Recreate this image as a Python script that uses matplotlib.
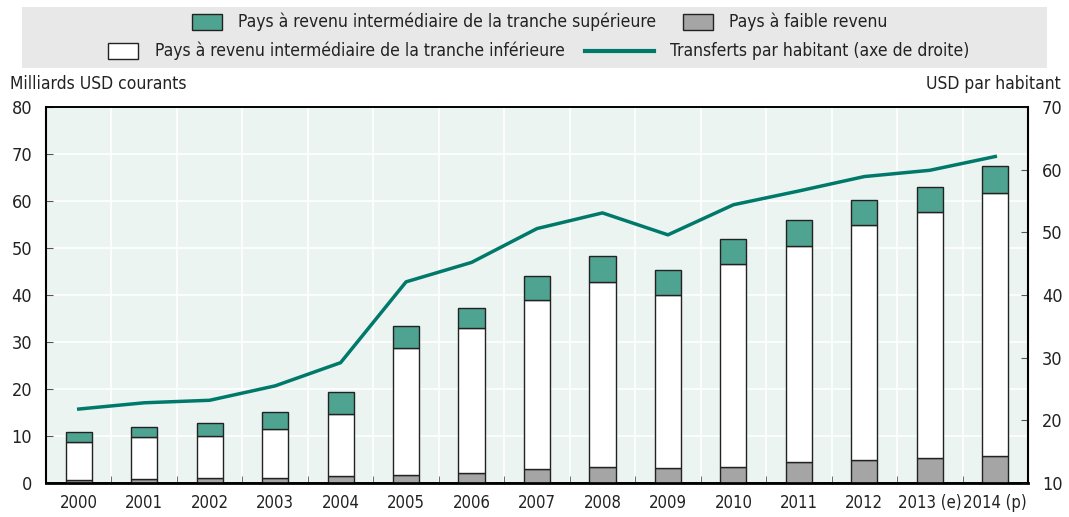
import matplotlib
matplotlib.use("Agg")
import matplotlib.pyplot as plt
from matplotlib import font_manager
from matplotlib.patches import Rectangle
from matplotlib.lines import Line2D
import numpy as np

names = {f.name for f in font_manager.fontManager.ttflist}
if 'Liberation Sans Narrow' in names:
    plt.rcParams['font.family'] = ['Liberation Sans Narrow', 'DejaVu Sans']
else:
    plt.rcParams['font.family'] = ['DejaVu Sans']
    plt.rcParams['font.stretch'] = 'condensed'

years = ["2000", "2001", "2002", "2003", "2004", "2005", "2006", "2007", "2008",
         "2009", "2010", "2011", "2012", "2013 (e)", "2014 (p)"]
low_income = [0.6, 0.8, 1.0, 1.1, 1.5, 1.8, 2.2, 2.9, 3.3, 3.2, 3.5, 4.5, 4.8, 5.3, 5.8]
lower_middle_top = [8.7, 9.8, 10.0, 11.5, 14.7, 28.8, 33.0, 38.9, 42.8, 40.1, 46.5, 50.4, 54.8, 57.6, 61.6]
total = [10.8, 12.0, 12.7, 15.2, 19.4, 33.3, 37.3, 44.0, 48.2, 45.3, 52.0, 55.9, 60.2, 63.0, 67.4]
per_capita = [21.8, 22.8, 23.2, 25.5, 29.2, 42.1, 45.2, 50.6, 53.1, 49.6, 54.4, 56.6, 58.9, 59.9, 62.1]

lower_middle = [t - l for t, l in zip(lower_middle_top, low_income)]
upper_middle = [t - m for t, m in zip(total, lower_middle_top)]

c_teal = "#4fa391"
c_gray = "#a5a5a5"
c_line = "#00796a"
c_bg = "#ecf4f2"
c_edge = "#222222"
c_text = "#222222"
fs = 12.5

W, H = 1069, 517
fig = plt.figure(figsize=(W / 100, H / 100), dpi=100)
ax = fig.add_axes([46/W, 1-483/H, (1028-46)/W, (483-107)/H])
ax.set_facecolor(c_bg)

x = np.arange(len(years))
w = 0.4
ax.bar(x, low_income, w, color=c_gray, edgecolor=c_edge, linewidth=1.0, zorder=3)
ax.bar(x, lower_middle, w, bottom=low_income, color="white", edgecolor=c_edge, linewidth=1.0, zorder=3)
ax.bar(x, upper_middle, w, bottom=lower_middle_top, color=c_teal, edgecolor=c_edge, linewidth=1.0, zorder=3)

ax.set_xlim(-0.5, len(years) - 0.5)
ax.set_ylim(0, 80)
ax.set_yticks(np.arange(0, 81, 10))
ax.set_xticks(x)
ax.set_xticklabels(years)
ax.set_xticks(np.arange(0.5, len(years) - 1, 1), minor=True)
ax.grid(axis='x', which='minor', color='white', linewidth=1.2, zorder=0)
ax.grid(axis='y', which='major', color='white', linewidth=1.2, zorder=0)
ax.set_axisbelow(True)
ax.tick_params(axis='x', which='major', length=0, labelsize=12, pad=8, colors=c_text)
ax.tick_params(axis='x', which='minor', length=5, direction='in', color='#555555')
ax.tick_params(axis='y', direction='in', length=5, color='#555555', labelsize=13, labelcolor=c_text, pad=10)
for s in ax.spines.values():
    s.set_color('black')
    s.set_linewidth(1.2)
ax.spines['bottom'].set_linewidth(2)
ax.spines['left'].set_linewidth(1.5)

ax2 = ax.twinx()
ax2.plot(x, per_capita, color=c_line, linewidth=2.5, zorder=5)
ax2.set_ylim(10, 70)
ax2.set_yticks(np.arange(10, 71, 10))
ax2.tick_params(axis='y', direction='in', length=5, color='#555555', labelsize=13, labelcolor=c_text, pad=10)
for s in ax2.spines.values():
    s.set_color('black')
    s.set_linewidth(1.2)
ax2.spines['right'].set_linewidth(1.5)

fig.text(10/W, 1-84/H, "Milliards USD courants", fontsize=fs, va='center', ha='left', color=c_text)
fig.text(1061/W, 1-84/H, "USD par habitant", fontsize=fs, va='center', ha='right', color=c_text)

# Legend (manual, centred rows)
fig.patches.append(Rectangle((22/W, 1-68/H), (1047-22)/W, (68-7)/H,
                             transform=fig.transFigure, facecolor='#e8e8e8', edgecolor='none', zorder=0))

def patch_item(x0, yc, color, label, tx):
    fig.patches.append(Rectangle((x0/W, 1-(yc+8)/H), 30/W, 16/H, transform=fig.transFigure,
                                 facecolor=color, edgecolor=c_edge, linewidth=1.0, zorder=2))
    fig.text(tx/W, 1-yc/H, label, fontsize=fs, va='center', ha='left', color=c_text)

patch_item(192, 22, c_teal, "Pays à revenu intermédiaire de la tranche supérieure", 238)
patch_item(683, 22, c_gray, "Pays à faible revenu", 729)
patch_item(108, 51, 'white', "Pays à revenu intermédiaire de la tranche inférieure", 155)
fig.lines.append(Line2D([585/W, 654/W], [1-51/H, 1-51/H], transform=fig.transFigure,
                        color=c_line, linewidth=3))
fig.text(670/W, 1-51/H, "Transferts par habitant (axe de droite)", fontsize=fs, va='center',
         ha='left', color=c_text)

fig.savefig("out.png", dpi=100)
